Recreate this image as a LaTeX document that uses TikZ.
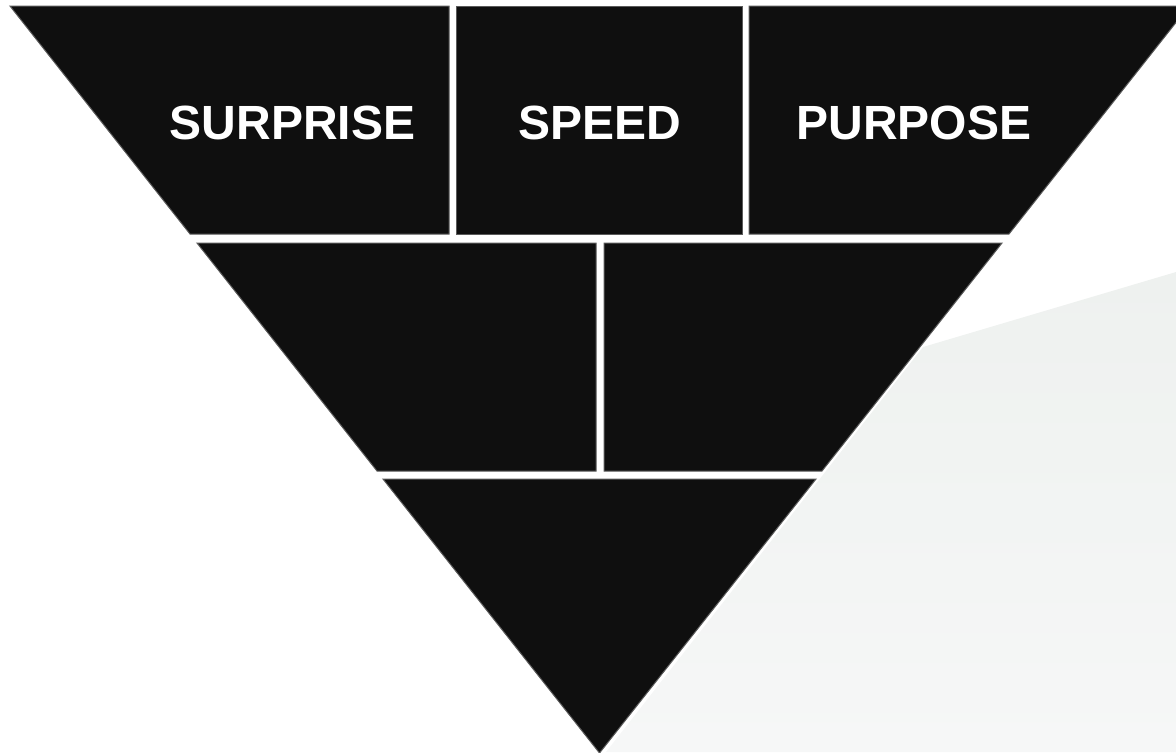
\documentclass[tikz,border=0pt]{standalone}
\usepackage{fontspec}
\setmainfont{Liberation Sans}
\begin{document}
\begin{tikzpicture}[x=0.5pt,y=-0.5pt,
  cell/.style={fill=cellblack,draw=celledge,line width=0.5pt,line join=miter},
  label/.style={text=white,font=\fontsize{24}{28}\selectfont\bfseries,anchor=base,inner sep=0pt}]
\definecolor{cellblack}{HTML}{0F0F0F}
\definecolor{celledge}{HTML}{5A5A5A}
\definecolor{floortop}{HTML}{EEF1EF}
\definecolor{floorbot}{HTML}{F6F7F7}
\useasboundingbox (0,0) rectangle (1176,752);
\clip (0,0) rectangle (1176,752);
% pale floor plane behind the pyramid
\shade[top color=floortop,bottom color=floorbot]
  (923,347) -- (1176,272) -- (1176,752) -- (606,752) -- cycle;
% top row
\path[cell] (10,6) -- (449,6) -- (449,234) -- (190,234) -- cycle;
\path[cell] (456,6) -- (742,6) -- (742,234) -- (456,234) -- cycle;
\path[cell] (749,6) -- (1189,6) -- (1009,234) -- (749,234) -- cycle;
% middle row
\path[cell] (197,243) -- (596,243) -- (596,471) -- (377,471) -- cycle;
\path[cell] (604,243) -- (1002,243) -- (822,471) -- (604,471) -- cycle;
% bottom tip
\path[cell] (383,479) -- (816,479) -- (599.5,753) -- cycle;
% labels
\node[label] (surprise) at (292.5,139.5) {SURPRISE};
\node[label] (speed) at (599.5,139.5) {SPEED};
\node[label] (purpose) at (914,139.5) {PURPOSE};
\end{tikzpicture}
\end{document}
